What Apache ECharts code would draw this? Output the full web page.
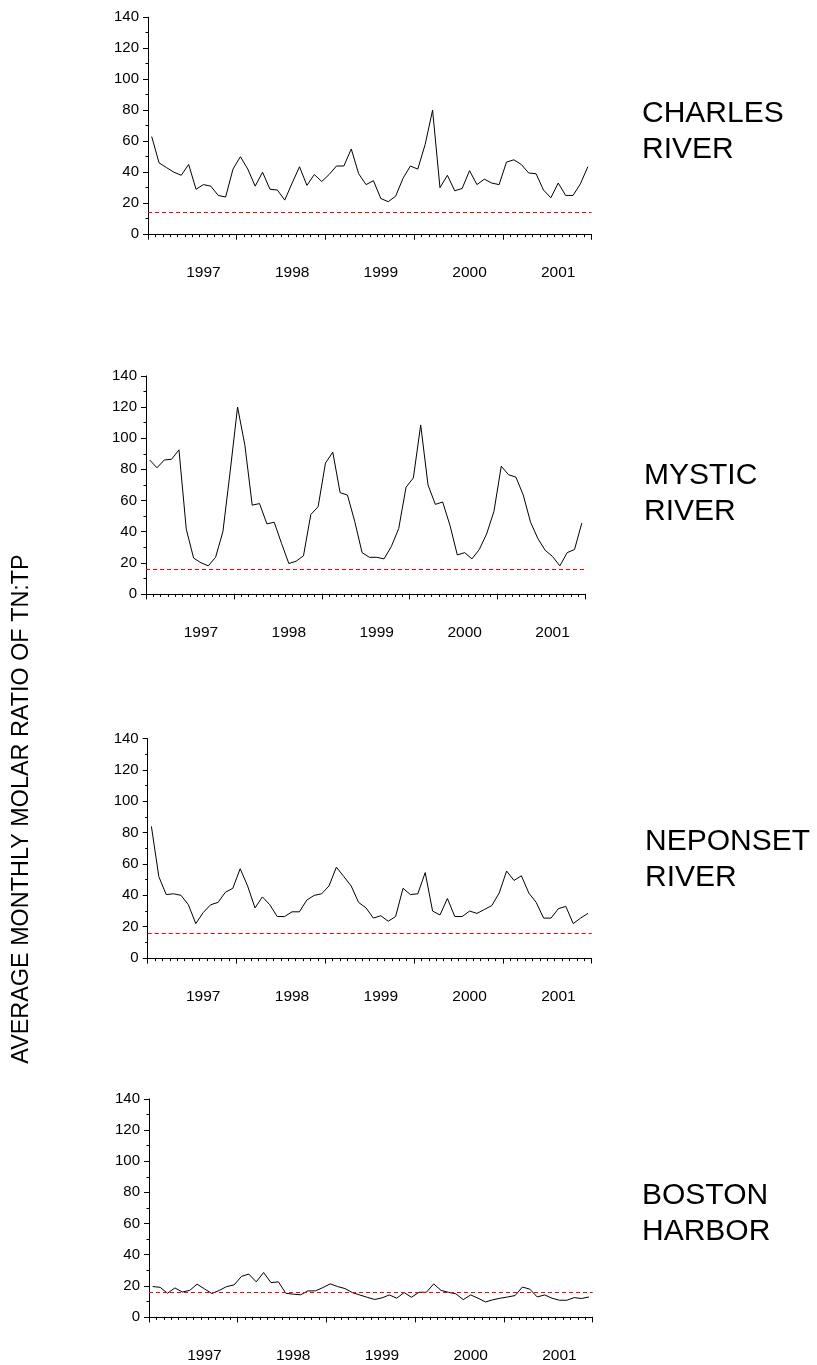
<!DOCTYPE html>
<html>
<head>
<meta charset="utf-8">
<script src="https://cdn.jsdelivr.net/npm/echarts@6/dist/echarts.min.js"></script>
<style>
html,body{margin:0;padding:0;background:#fff;}
#chart{width:817px;height:1365px;}
</style>
</head>
<body>
<div id="chart"></div>
<script>
// Monthly categories, June 1996 - May 2001
const months = [];
for (let i = 0; i < 60; i++) {
  const y = 1996 + Math.floor((i + 5) / 12);
  const m = ((i + 5) % 12) + 1;
  months.push(y + '-' + (m < 10 ? '0' + m : m));
}
const yTicks = [0, 20, 40, 60, 80, 100, 120, 140];
const panelNames = ['CHARLES\nRIVER', 'MYSTIC\nRIVER', 'NEPONSET\nRIVER', 'BOSTON\nHARBOR'];
const yTitle = 'AVERAGE MONTHLY MOLAR RATIO OF TN:TP';

const charles = [63,46,43,40,38,45,29,32,31,25, 24,42,50,42,31,40,29,28.5,22,33,
  43.5,31.5,38.5,34,38.5,44,44,55,39,32, 34.5,23,21,24.5,36,44,42,58,80,30,
  38,28,29.5,41,32,35.5,33,32,46.5,48, 45,39.5,39,28.5,23.5,33,25,25,32.5,43.5];
const mystic = [86,81,86,86.5,92.5,41.5,23,20,18,23.5, 40,79,120,95.5,57,58,45,46,32.5,19.5,
  21,24.5,51,56,84,91,65,63.5,46.5,26.5, 23.5,23.5,22.5,30.5,42,68.5,74.5,108.5,70,57.5,
  59,44,25,26.5,22.5,28.5,38.5,53,82,76.5,75,63.5,46,35.5,28,24,18,26.5,28.5,45.5];
const neponset = [84,52,40.5,41,40,34,22,29,34,35.5, 42,44.5,57,46,32,39,34,26.5,26.5,29.5,
  29.5,37,40,41,46,58,52,46,35.5,32, 25.5,27,23.5,26.5,44.5,40.5,41,54.5,30,27.5,
  38,26.5,26.5,30,28.5,31,33.5,41.5,55.5,49.5, 52.5,41.5,35.5,25.5,25.5,31.5,33,22,25.5,28.5];
const boston = [19.5,19,15.2,18.6,16,17,21,18,15,17, 19.5,20.5,26,27.5,22.5,28.5,22,22.5,15.2,14.6,
  14.2,16.7,16.7,18.8,21.2,19.5,18.2,15.6,14.1,12.6, 11.2,12.2,14.1,12,15.6,12.6,15.8,15.8,21.2,17,
  15.8,14.8,11.1,14.1,12,9.6,11,12,12.8,13.7, 19.2,17.8,12.8,14.1,12,10.7,10.7,12.4,11.8,12.8];
const redfield = [14, 16, 16, 16];
const seriesData = [charles, mystic, neponset, boston];

const grids = [
  {left: 148, top: 17.2, width: 443.5, height: 217},
  {left: 146, top: 375.9, width: 439.5, height: 218},
  {left: 147.7, top: 738.5, width: 444, height: 219.6},
  {left: 149, top: 1098.9, width: 443.7, height: 218}
];
const textTops = [96.3, 458.3, 824.3, 1178.3];
const textLefts = [642, 644, 645, 642];

const FONT = '"Liberation Sans", Arial, sans-serif';
const lineCol = '#000';
const red = '#ff0000';

const option = {
  animation: false,
  backgroundColor: '#fff',
  grid: grids.map(g => Object.assign({containLabel: false}, g)),
  xAxis: [],
  yAxis: [],
  series: [],
  title: [],
  graphic: [{
    type: 'text',
    x: 22, y: 809,
    rotation: Math.PI / 2,
    style: {
      text: yTitle,
      font: '23.4px "Liberation Sans", Arial, sans-serif',
      fill: '#000',
      align: 'center',
      verticalAlign: 'middle'
    }
  }]
};

for (let p = 0; p < 4; p++) {
  option.xAxis.push({
    type: 'category', gridIndex: p, data: months, boundaryGap: true, position: 'bottom',
    axisLine: {show: true, lineStyle: {color: lineCol, width: 1}},
    axisTick: {show: true, interval: 0, length: 3, lineStyle: {color: lineCol, width: 1}},
    axisLabel: {
      show: true,
      interval: (idx, val) => val.slice(5) === '01',
      formatter: val => val.slice(0, 4),
      margin: 31, fontSize: 15.5, color: '#000', fontFamily: FONT
    },
    splitLine: {show: false}
  });
  option.xAxis.push({
    type: 'category', gridIndex: p, data: months, boundaryGap: true, position: 'bottom',
    axisLine: {show: false},
    axisTick: {show: true, interval: (idx) => idx % 12 === 0, length: 5.5, lineStyle: {color: lineCol, width: 1}},
    axisLabel: {show: false},
    splitLine: {show: false}
  });
  option.yAxis.push({
    type: 'value', gridIndex: p, min: 0, max: 140, interval: 20,
    axisLine: {show: true, lineStyle: {color: lineCol, width: 1}},
    axisTick: {show: true, length: 5, lineStyle: {color: lineCol, width: 1}},
    minorTick: {show: true, splitNumber: 2, length: 2.5, lineStyle: {color: lineCol, width: 1}},
    axisLabel: {margin: 9, fontSize: 15, color: '#000', fontFamily: FONT,
      formatter: v => (yTicks.indexOf(v) >= 0 ? String(v) : '')},
    splitLine: {show: false}, minorSplitLine: {show: false}
  });
  option.series.push({
    type: 'line', xAxisIndex: p * 2, yAxisIndex: p,
    data: seriesData[p], showSymbol: false, symbol: 'none',
    color: '#000',
    lineStyle: {color: '#000', width: 1}
  });
  // separate carrier series for the red dashed reference line
  option.series.push({
    type: 'line', xAxisIndex: p * 2, yAxisIndex: p,
    data: [], color: red, z: 3,
    markLine: {
      silent: true, symbol: ['none', 'none'], animation: false,
      label: {show: false},
      lineStyle: {color: red, width: 1.2, type: [4, 3], opacity: 1},
      emphasis: {disabled: true},
      data: [{yAxis: redfield[p]}]
    }
  });
  option.title.push({
    text: panelNames[p], left: textLefts[p], top: textTops[p], padding: 0,
    textStyle: {fontSize: 30, fontWeight: 'normal', lineHeight: 35.5, color: '#000', fontFamily: FONT}
  });
}

const chart = echarts.init(document.getElementById('chart'), null, {renderer: 'canvas'});
chart.setOption(option);
</script>
</body>
</html>
